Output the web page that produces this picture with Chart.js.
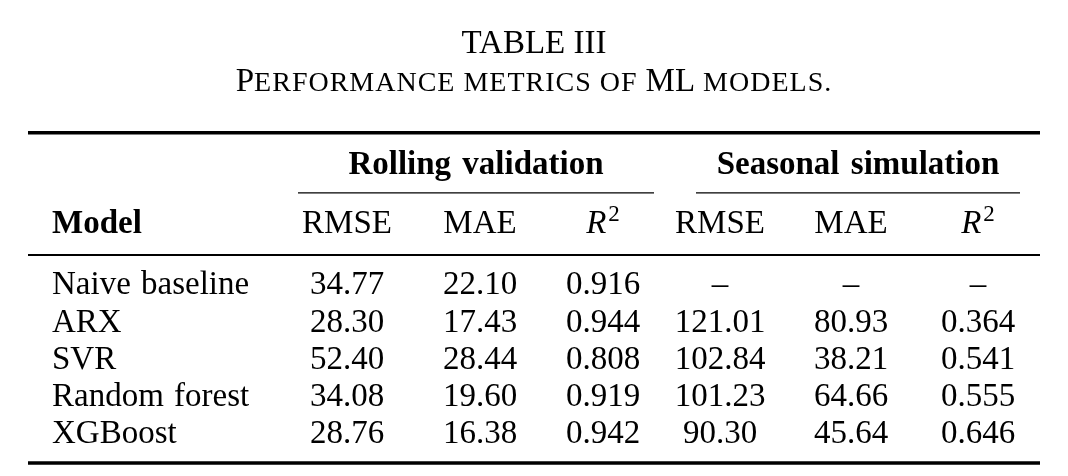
<!DOCTYPE html>
<html>
<head>
<meta charset="utf-8">
<script src="https://cdn.jsdelivr.net/npm/chart.js@4/dist/chart.umd.min.js"></script>
<style>
  html, body { margin: 0; padding: 0; background: #fff; }
  #wrap { width: 1068px; height: 476px; }
</style>
</head>
<body>
<div id="wrap"><canvas id="table" width="1068" height="476"></canvas></div>
<script>
// table contents
const models = ['Naive baseline', 'ARX', 'SVR', 'Random forest', 'XGBoost'];
const rollingRMSE = [34.77, 28.30, 52.40, 34.08, 28.76];
const rollingMAE = [22.10, 17.43, 28.44, 19.60, 16.38];
const rollingR2 = [0.916, 0.944, 0.808, 0.919, 0.942];
const seasonalRMSE = [null, 121.01, 102.84, 101.23, 90.30];
const seasonalMAE = [null, 80.93, 38.21, 64.66, 45.64];
const seasonalR2 = [null, 0.364, 0.541, 0.555, 0.646];
const groupLabels = ['Rolling validation', 'Seasonal simulation'];
const metricLabels = ['RMSE', 'MAE', 'R2', 'RMSE', 'MAE', 'R2'];

// layout (x in table px, y in row units)
const serif = "'Liberation Serif', 'DejaVu Serif', serif";
const fontSize = 33;
const lift = 11; // baseline sits this far below a row's centre
const modelX = 52;
const colX = [347, 480, 603, 720, 851, 978];
const groupSpan = [[298, 654], [696, 1020]];
const ruleX = [28, 1040];
const rowTitle = -6.51, rowSub = -5.49, rowTop = -4.06, rowGroup = -3.25;
const rowCmid = -2.44, rowHead = -1.66, rowMid = -0.77, rowBottom = 4.84;

const columns = [rollingRMSE, rollingMAE, rollingR2, seasonalRMSE, seasonalMAE, seasonalR2];
const decimals = [2, 2, 3, 2, 2, 3];

const datasets = [{
  label: 'Model',
  data: models.map((m, i) => ({ x: modelX, y: i, text: m })),
  align: 'left'
}].concat(columns.map((col, j) => ({
  label: metricLabels[j],
  data: col.map((v, i) => ({ x: colX[j], y: i, text: v === null ? '\u2013' : v.toFixed(decimals[j]) })),
  align: 'center'
})));

const tablePlugin = {
  id: 'tablePlugin',
  afterDatasetsDraw(chart) {
    const ctx = chart.ctx;
    const xs = chart.scales.x, ys = chart.scales.y;
    const px = v => xs.getPixelForValue(v);
    const py = v => ys.getPixelForValue(v);
    ctx.save();
    ctx.fillStyle = '#000';
    ctx.strokeStyle = '#000';
    ctx.textBaseline = 'alphabetic';

    // caption
    ctx.textAlign = 'center';
    ctx.font = fontSize + 'px ' + serif;
    ctx.fillText('TABLE III', px(534), py(rowTitle) + lift);
    const parts = [['P', fontSize, 0], ['ERFORMANCE METRICS OF ', 28, 1], ['ML', fontSize, 0], [' MODELS.', 28, 1]];
    let w = 0;
    parts.forEach(p => {
      ctx.font = p[1] + 'px ' + serif;
      ctx.letterSpacing = p[2] + 'px';
      w += ctx.measureText(p[0]).width;
    });
    let cx = px(534) - w / 2;
    ctx.textAlign = 'left';
    parts.forEach(p => {
      ctx.font = p[1] + 'px ' + serif;
      ctx.letterSpacing = p[2] + 'px';
      ctx.fillText(p[0], cx, py(rowSub) + lift);
      cx += ctx.measureText(p[0]).width;
    });
    ctx.letterSpacing = '0px';

    // rules
    const rule = (row, x0, x1, lw) => {
      ctx.lineWidth = lw;
      ctx.beginPath();
      ctx.moveTo(px(x0), py(row));
      ctx.lineTo(px(x1), py(row));
      ctx.stroke();
    };
    rule(rowTop, ruleX[0], ruleX[1], 3.5);
    rule(rowMid, ruleX[0], ruleX[1], 2);
    rule(rowBottom, ruleX[0], ruleX[1], 3.5);
    groupSpan.forEach(s => rule(rowCmid, s[0], s[1], 1.2));

    // group headers
    ctx.textAlign = 'center';
    ctx.font = 'bold ' + fontSize + 'px ' + serif;
    ctx.wordSpacing = '3px';
    groupLabels.forEach((g, k) => {
      ctx.fillText(g, px((groupSpan[k][0] + groupSpan[k][1]) / 2), py(rowGroup) + lift);
    });
    ctx.wordSpacing = '0px';

    // column headers
    ctx.textAlign = 'left';
    ctx.fillText('Model', px(modelX), py(rowHead) + lift);
    metricLabels.forEach((m, j) => {
      const x = px(colX[j]), y = py(rowHead) + lift;
      if (m === 'R2') {
        ctx.font = 'italic ' + fontSize + 'px ' + serif;
        const rw = ctx.measureText('R').width;
        ctx.font = '23px ' + serif;
        const sw = ctx.measureText('2').width;
        const x0 = x - (rw + sw + 2) / 2;
        ctx.textAlign = 'left';
        ctx.font = 'italic ' + fontSize + 'px ' + serif;
        ctx.fillText('R', x0, y);
        ctx.font = '23px ' + serif;
        ctx.fillText('2', x0 + rw + 2, y - 12);
      } else {
        ctx.textAlign = 'center';
        ctx.font = fontSize + 'px ' + serif;
        ctx.fillText(m, x, y);
      }
    });

    // body cells, placed at the points the scales computed
    ctx.font = fontSize + 'px ' + serif;
    ctx.wordSpacing = '2px';
    chart.data.datasets.forEach((ds, di) => {
      const meta = chart.getDatasetMeta(di);
      ctx.textAlign = ds.align;
      meta.data.forEach((pt, i) => {
        ctx.fillText(ds.data[i].text, pt.x, pt.y + lift);
      });
    });
    ctx.restore();
  }
};

new Chart(document.getElementById('table'), {
  type: 'scatter',
  data: { datasets: datasets },
  options: {
    responsive: false,
    animation: false,
    layout: { padding: 0 },
    elements: { point: { radius: 0, hoverRadius: 0 } },
    scales: {
      x: { type: 'linear', min: 0, max: 1068, display: false },
      y: { type: 'linear', min: -7.64, max: 5.19, reverse: true, display: false }
    },
    plugins: {
      legend: { display: false },
      tooltip: { enabled: false },
      title: { display: false }
    }
  },
  plugins: [tablePlugin]
});
</script>
</body>
</html>
